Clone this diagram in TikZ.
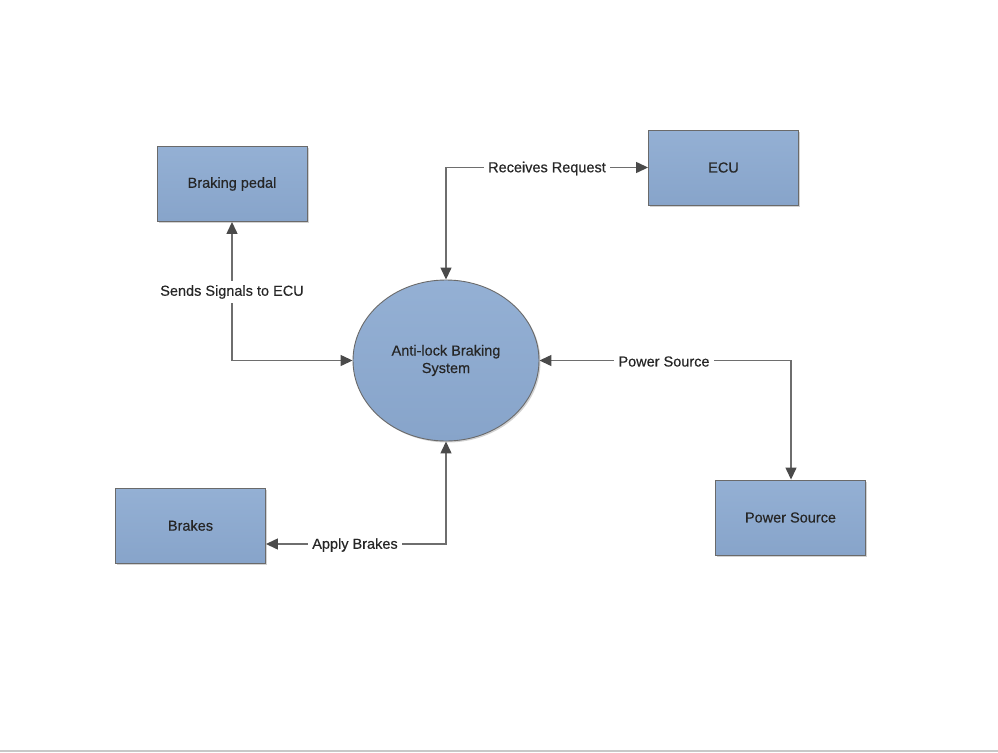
\documentclass[tikz,border=0pt]{standalone}
\usepackage{fontspec}
\setmainfont{Liberation Sans}
\newfontfamily\diagfont[FakeBold=0.4]{Liberation Sans}
\usetikzlibrary{arrows.meta,shadows,shapes.geometric}
\definecolor{boxtop}{HTML}{94B0D4}
\definecolor{boxbot}{HTML}{87A4CA}
\definecolor{edge}{HTML}{6A6A6A}
\definecolor{wire}{HTML}{6E6E6E}
\definecolor{tip}{HTML}{4A4A4A}
\definecolor{ink}{HTML}{262626}
\definecolor{rule}{HTML}{C8C8C8}
\begin{document}
\begin{tikzpicture}[x=1pt,y=-1pt,
  txt/.style={font=\diagfont\fontsize{14.5}{17.5}\selectfont, text=ink},
  block/.style={txt, draw=edge, line width=0.9pt, top color=boxtop, bottom color=boxbot,
    minimum width=150pt, minimum height=75pt, inner sep=0pt,
    drop shadow={shadow xshift=1.5pt, shadow yshift=-1.5pt, opacity=0.35}},
  hub/.style={txt, ellipse, draw=edge, line width=0.9pt, top color=boxtop, bottom color=boxbot,
    minimum width=186pt, minimum height=161pt, inner sep=0pt, align=center,
    drop shadow={shadow xshift=1.5pt, shadow yshift=-1.5pt, opacity=0.35}},
  link/.style={draw=wire, line width=1.3pt, {Triangle[length=12pt,width=11pt,fill=tip,color=tip]}-{Triangle[length=12pt,width=11pt,fill=tip,color=tip]}},
  tag/.style={txt, fill=white, inner sep=4pt}]
  % page frame
  \useasboundingbox (0,0) rectangle (998,752);
  \fill[white] (0,0) rectangle (998,752);
  \fill[rule] (0,749.5) rectangle (998,752);

  % blocks
  \node[block] (pedal) at (232,184) {Braking pedal};
  \node[block] (ecu) at (723.5,167.5) {ECU};
  \node[block] (brakes) at (190.5,525.5) {Brakes};
  \node[block] (power) at (790.5,517.5) {Power Source};
  \node[hub] (abs) at (446,360.5) {Anti-lock Braking\\System};

  % corner points of the elbow connectors
  \coordinate (c1) at (232,360.5);
  \coordinate (c2) at (446,167.5);
  \coordinate (c3) at (791,360.5);
  \coordinate (c4) at (446,544);

  % connectors
  \draw[link] (pedal.south) -- (c1) -- (abs.west);
  \draw[link] (abs.north) -- (c2) -- (ecu.west);
  \draw[link] (abs.east) -- (c3) -- (power.north -| c3);
  \draw[link] (abs.south) -- (c4) -- (brakes.east |- c4);

  % connector labels
  \node[tag] (l1) at (232,292) {Sends Signals to ECU};
  \node[tag] (l2) at (547,168.5) {Receives Request};
  \node[tag] (l3) at (664,361.5) {Power Source};
  \node[tag] (l4) at (355,545) {Apply Brakes};
\end{tikzpicture}
\end{document}
